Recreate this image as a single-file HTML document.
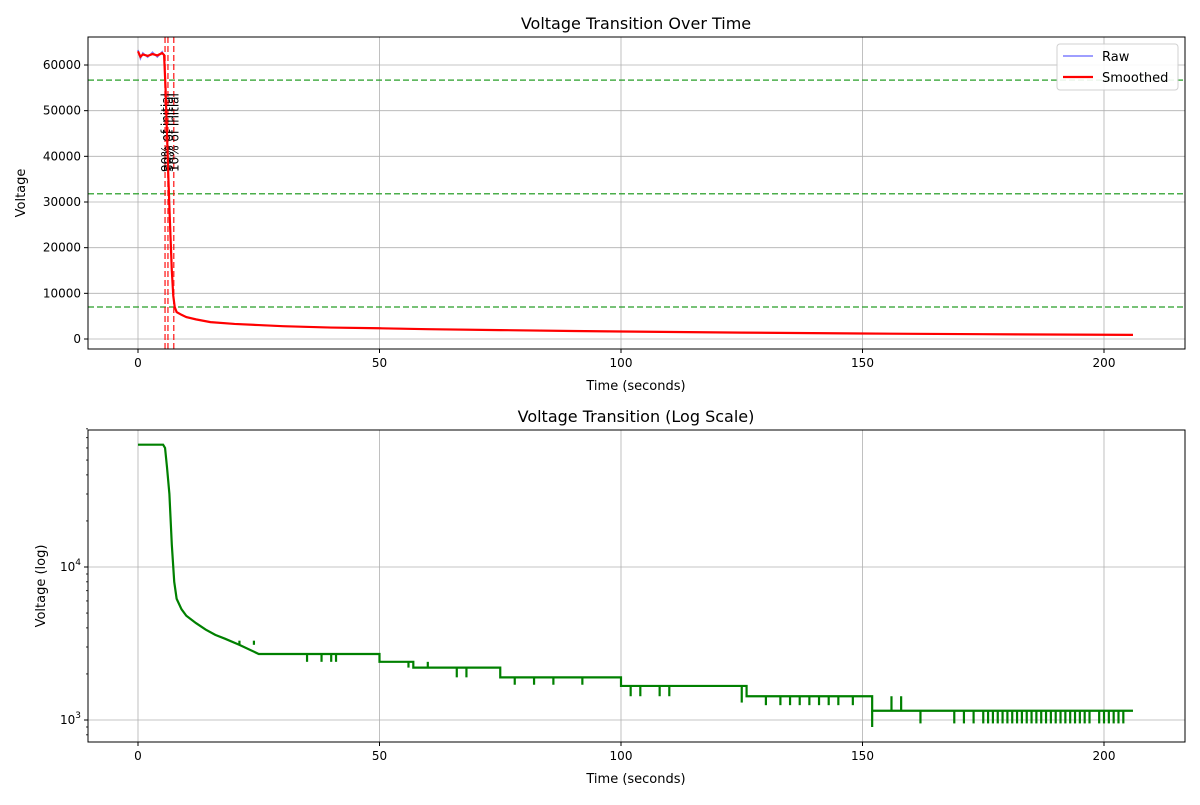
<!DOCTYPE html>
<html><head><meta charset="utf-8"><style>
body{margin:0;background:#fff;font-family:"Liberation Sans","DejaVu Sans",sans-serif;}
svg text{font-family:"DejaVu Sans","Liberation Sans",sans-serif;}
</style></head><body>
<svg id="c" width="1200" height="800" xmlns="http://www.w3.org/2000/svg"></svg>
<script>
const times=[0,0.5,1,2,3,4,5,5.4,5.7,6,6.3,6.6,7,7.3,7.6,8,9,10,12,15,20,25,30,40,50,60,75,90,100,125,150,175,206];
const volts=[63000,61800,62300,62000,62400,62100,62600,62200,55000,45000,35000,26000,15000,9500,7000,5900,5300,4800,4300,3700,3300,3050,2800,2500,2350,2150,1950,1750,1650,1400,1200,1050,900];
const rawNoise=[300,-400,350,-300,400,-350,300,-200];
const logTimes=[0,5.2,5.6,6,6.5,7,7.5,8,9,10,12,14,16,18,21,25,50,57,75,100,126,152,206];
const logVals=[63000,63000,60000,45000,30000,14000,8000,6200,5300,4800,4300,3900,3600,3400,3100,2700,2400,2200,1900,1670,1430,1150,1150];
const spikeTimes=[21,24,35,38,40,41,44,46,48,56,58,60,66,68,70,72,78,82,86,88,90,92,94,102,104,106,108,110,112,115,118,125,130,133,135,137,139,141,143,145,148,152,156,158,162,169,171,173,175,176,177,178,179,180,181,182,183,184,185,186,187,188,189,190,191,192,193,194,195,196,197,199,200,201,202,203,204];
const spikeVals=[3300,3300,2400,2400,2400,2400,2700,2700,2700,2200,2200,2400,1900,1900,2200,2200,1700,1700,1700,1900,1900,1700,1900,1430,1430,1670,1430,1430,1670,1670,1670,1300,1250,1250,1250,1250,1250,1250,1250,1250,1250,900,1430,1430,950,950,950,950,950,950,950,950,950,950,950,950,950,950,950,950,950,950,950,950,950,950,950,950,950,950,950,950,950,950,950,950,950];
const hLines=[56700,31800,7000];
const vLines=[5.6,6.2,7.4];
const vLabels=["90% of initial","50% of initial","10% of initial"];
const xTicks=[0,50,100,150,200];
const yTicks=[0,10000,20000,30000,40000,50000,60000];

const svg=document.getElementById('c');
const NS='http://www.w3.org/2000/svg';
function mk(t,a,p){const e=document.createElementNS(NS,t);for(const k in a)e.setAttribute(k,a[k]);(p||svg).appendChild(e);return e;}
const L=88,R=1185;
const xs=t=>138+(t)*(1104-138)/200;
const y1=v=>339-v*(339-65)/60000;
const y2=v=>567-Math.log10(v/1e4)*153;

function frame(name){
  const g=mk('g',{});
  
  
  return g;
}
// ---- top
const g1=frame('top-plot');
xTicks.forEach(t=>{mk('line',{x1:xs(t),x2:xs(t),y1:37,y2:349,stroke:'#b0b0b0','stroke-width':0.8},g1);
  mk('line',{x1:xs(t),x2:xs(t),y1:349,y2:353,stroke:'#000'},g1);
  const tx=mk('text',{x:xs(t),y:367,'font-size':12,'text-anchor':'middle'},g1);tx.textContent=t;
  });
yTicks.forEach(v=>{mk('line',{x1:L,x2:R,y1:y1(v),y2:y1(v),stroke:'#b0b0b0','stroke-width':0.8},g1);
  mk('line',{x1:L-4,x2:L,y1:y1(v),y2:y1(v),stroke:'#000'},g1);
  const tx=mk('text',{x:L-7,y:y1(v)+4,'font-size':12,'text-anchor':'end'},g1);tx.textContent=v;
  });
hLines.forEach(v=>{const l=mk('line',{x1:L,x2:R,y1:y1(v),y2:y1(v),stroke:'#2ca02c','stroke-width':1.5,'stroke-dasharray':'6,3',opacity:0.85},g1);
  });
vLines.forEach((t,i)=>{const l=mk('line',{x1:xs(t),x2:xs(t),y1:37,y2:349,stroke:'#ff0000','stroke-width':1.5,'stroke-dasharray':'6,3',opacity:0.75},g1);
  
  const tx=mk('text',{x:0,y:0,'font-size':12,transform:`translate(${xs(t)+5},172) rotate(-90)`},g1);tx.textContent=vLabels[i];
  });
let rp='';times.forEach((t,i)=>{const n=t<5.5?rawNoise[i%rawNoise.length]:0;rp+=(i?'L':'M')+xs(t)+','+y1(volts[i]+n);});
const raw=mk('path',{d:rp,fill:'none',stroke:'#0000ff','stroke-width':1.5,opacity:0.5},g1);

let sp='';times.forEach((t,i)=>{sp+=(i?'L':'M')+xs(t)+','+y1(volts[i]);});
const sm=mk('path',{d:sp,fill:'none',stroke:'#ff0000','stroke-width':2.2},g1);

mk('rect',{x:L,y:37,width:R-L,height:312,fill:'none',stroke:'#000','stroke-width':1},g1);
let t1=mk('text',{x:636,y:29,'font-size':16,'text-anchor':'middle'},g1);t1.textContent='Voltage Transition Over Time';

let xl=mk('text',{x:636,y:390,'font-size':13,'text-anchor':'middle'},g1);xl.textContent='Time (seconds)';

let yl=mk('text',{x:0,y:0,'font-size':13,'text-anchor':'middle',transform:'translate(25,193) rotate(-90)'},g1);yl.textContent='Voltage';

const lg=mk('g',{},g1);
mk('rect',{x:1057,y:44,width:121,height:46,rx:3,fill:'#fff',stroke:'#ccc',opacity:0.9},lg);
mk('line',{x1:1063,x2:1093,y1:56,y2:56,stroke:'#0000ff','stroke-width':1.5,opacity:0.5},lg);
let lt=mk('text',{x:1102,y:61,'font-size':13},lg);lt.textContent='Raw';
mk('line',{x1:1063,x2:1093,y1:77,y2:77,stroke:'#ff0000','stroke-width':2.2},lg);
lt=mk('text',{x:1102,y:82,'font-size':13},lg);lt.textContent='Smoothed';
// ---- bottom
const g2=frame('bottom-plot');
xTicks.forEach(t=>{mk('line',{x1:xs(t),x2:xs(t),y1:430,y2:742,stroke:'#b0b0b0','stroke-width':0.8},g2);
  mk('line',{x1:xs(t),x2:xs(t),y1:742,y2:746,stroke:'#000'},g2);
  const tx=mk('text',{x:xs(t),y:760,'font-size':12,'text-anchor':'middle'},g2);tx.textContent=t;
  });
[1e3,1e4].forEach((v,i)=>{mk('line',{x1:L,x2:R,y1:y2(v),y2:y2(v),stroke:'#b0b0b0','stroke-width':0.8},g2);
  mk('line',{x1:L-4,x2:L,y1:y2(v),y2:y2(v),stroke:'#000'},g2);
  const tx=mk('text',{x:L-7,y:y2(v)+4,'font-size':12,'text-anchor':'end'},g2);tx.textContent='10';
  const s=mk('tspan',{'font-size':9,dy:-6},tx);s.textContent=i?'4':'3';
  });
[800,900,2000,3000,4000,5000,6000,7000,8000,9000,20000,30000,40000,50000,60000,70000,80000].forEach(v=>{
  mk('line',{x1:L-2,x2:L,y1:y2(v),y2:y2(v),stroke:'#000','stroke-width':0.8},g2);});
let lp='';logTimes.forEach((t,i)=>{
  if(i && t>25){lp+='L'+xs(t)+','+y2(logVals[i-1]);}
  lp+=(i?'L':'M')+xs(t)+','+y2(logVals[i]);});
const ls=mk('path',{d:lp,fill:'none',stroke:'#008000','stroke-width':2.2},g2);

spikeTimes.forEach((t,i)=>{let base=logVals[0];for(let k=0;k<logTimes.length;k++)if(logTimes[k]<=t)base=logVals[k];
  const l=mk('line',{x1:xs(t),x2:xs(t),y1:y2(base),y2:y2(spikeVals[i]),stroke:'#008000','stroke-width':2.2},g2);
  });
mk('rect',{x:L,y:430,width:R-L,height:312,fill:'none',stroke:'#000','stroke-width':1},g2);
let t2=mk('text',{x:636,y:422,'font-size':16,'text-anchor':'middle'},g2);t2.textContent='Voltage Transition (Log Scale)';

xl=mk('text',{x:636,y:783,'font-size':13,'text-anchor':'middle'},g2);xl.textContent='Time (seconds)';

yl=mk('text',{x:0,y:0,'font-size':13,'text-anchor':'middle',transform:'translate(45,586) rotate(-90)'},g2);yl.textContent='Voltage (log)';

</script>
</body></html>
